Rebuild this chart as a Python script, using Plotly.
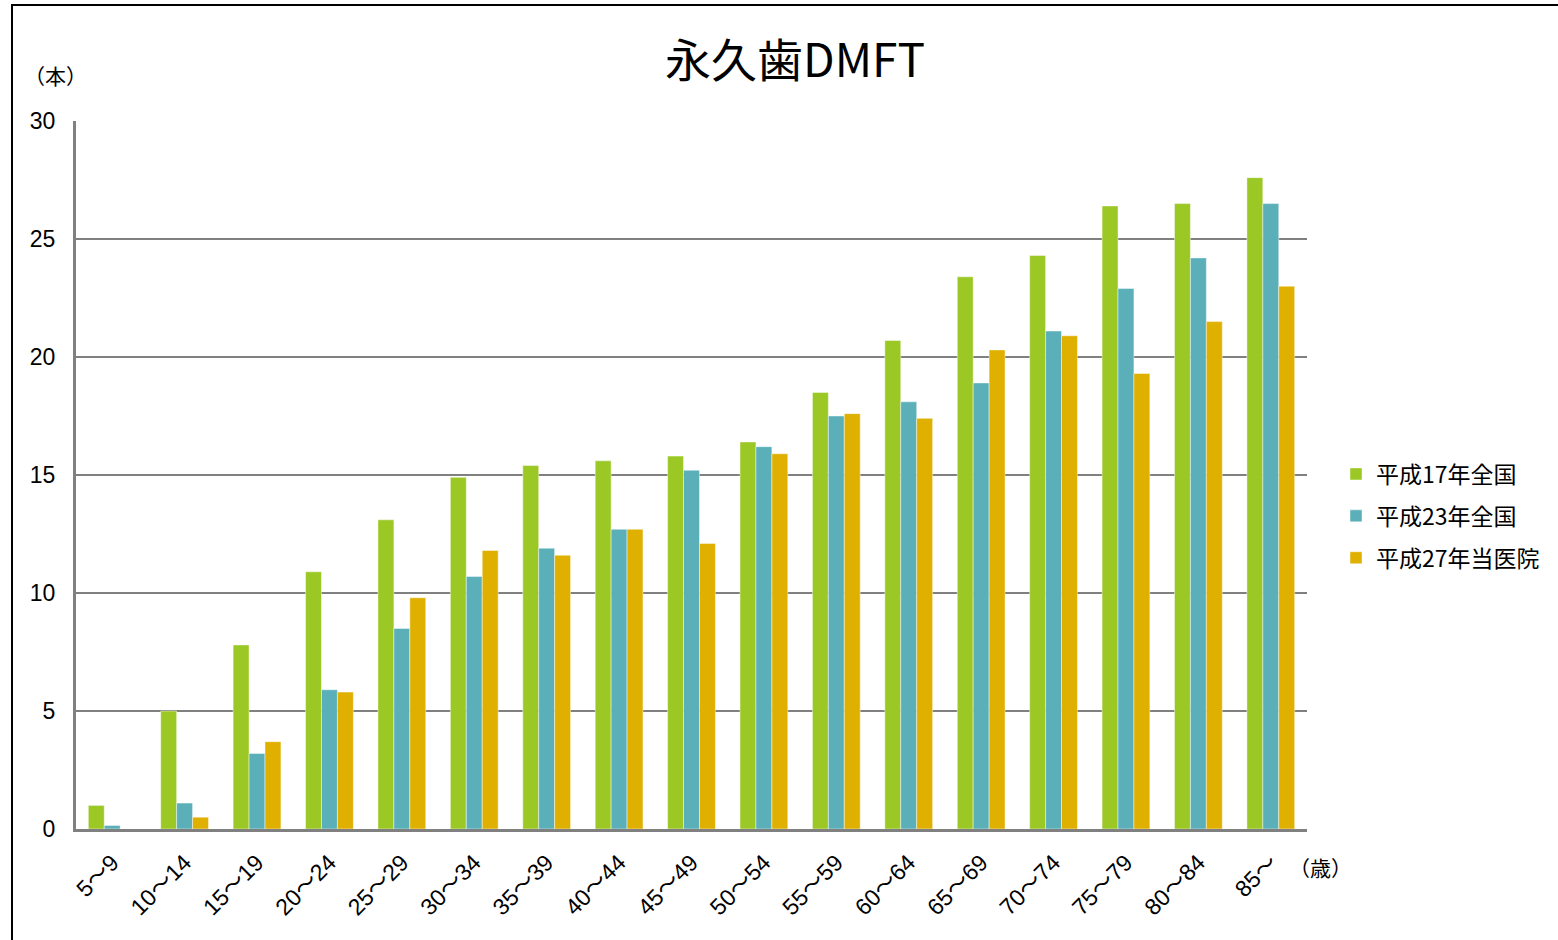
import plotly.graph_objects as go

categories = ["5〜9", "10〜14", "15〜19", "20〜24", "25〜29", "30〜34", "35〜39", "40〜44",
              "45〜49", "50〜54", "55〜59", "60〜64", "65〜69", "70〜74", "75〜79", "80〜84", "85〜"]
h17 = [1.0, 5.0, 7.8, 10.9, 13.1, 14.9, 15.4, 15.6, 15.8, 16.4, 18.5, 20.7, 23.4, 24.3, 26.4, 26.5, 27.6]
h23 = [0.15, 1.1, 3.2, 5.9, 8.5, 10.7, 11.9, 12.7, 15.2, 16.2, 17.5, 18.1, 18.9, 21.1, 22.9, 24.2, 26.5]
h27 = [0.0, 0.5, 3.7, 5.8, 9.8, 11.8, 11.6, 12.7, 12.1, 15.9, 17.6, 17.4, 20.3, 20.9, 19.3, 21.5, 23.0]
series_names = ["平成17年全国", "平成23年全国", "平成27年当医院"]
colors = ["#9BC825", "#5AAFB8", "#DFB000"]

FONT = "Liberation Sans, Arial, Noto Sans CJK JP, sans-serif"
CJK = "Noto Sans CJK JP, sans-serif"

fig = go.Figure()
for i, (name, vals, c) in enumerate(zip(series_names, [h17, h23, h27], colors)):
    fig.add_trace(go.Bar(x=categories, y=vals, name=name, legendgroup=f"g{i}",
                         marker=dict(color=c, line=dict(color="rgba(255,255,255,0.45)", width=1))))

L, R, T, B = 76, 251, 121, 111
W, H = 1558, 940
pw, ph = W - L - R, H - T - B

def px(x):
    return (x - L) / pw

def py(y):
    return (H - B - y) / ph

fig.update_layout(
    width=W, height=H,
    margin=dict(l=L, r=R, t=T, b=B),
    paper_bgcolor="white", plot_bgcolor="white",
    barmode="group", bargap=0.34, bargroupgap=0.0,
    font=dict(family=FONT, size=20, color="#000"),
    showlegend=True,
    legend=dict(x=px(1336), y=py(516), xanchor="left", yanchor="middle",
                font=dict(family=CJK, size=23, color="#000"),
                itemwidth=30, tracegroupgap=9, traceorder="grouped",
                bgcolor="rgba(0,0,0,0)"),
    xaxis=dict(tickangle=-45, showline=True, linecolor="#808080", linewidth=3,
               showgrid=False, ticks="", tickfont=dict(family=FONT, size=23),
               ticklabelstandoff=8, fixedrange=True),
    yaxis=dict(range=[0, 30], dtick=5, showline=True, linecolor="#808080", linewidth=3,
               showgrid=True, gridcolor="#808080", gridwidth=2, zeroline=False,
               ticks="", tickfont=dict(family=FONT, size=23), ticklabelstandoff=13),
    annotations=[
        dict(text="永久歯DMFT", x=px(795), y=py(57), xref="paper", yref="paper",
             showarrow=False, xanchor="center", yanchor="middle",
             font=dict(family=CJK, size=46, color="#000")),
        dict(text="（本）", x=px(55), y=py(75), xref="paper", yref="paper",
             showarrow=False, xanchor="center", yanchor="middle",
             font=dict(family=CJK, size=21, color="#000")),
        dict(text="（歳）", x=px(1320), y=py(867), xref="paper", yref="paper",
             showarrow=False, xanchor="center", yanchor="middle",
             font=dict(family=CJK, size=21, color="#000")),
    ],
    shapes=[
        dict(type="rect", xref="paper", yref="paper",
             x0=px(12), x1=px(1570), y0=py(5), y1=py(960),
             line=dict(color="#000", width=2), fillcolor="rgba(0,0,0,0)", layer="above"),
    ],
)

fig.write_html("out.html")
